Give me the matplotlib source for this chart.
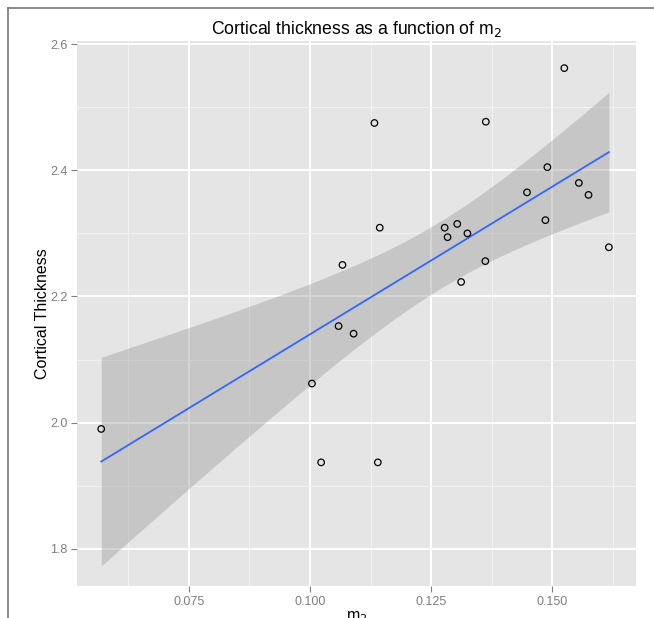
import numpy as np
import matplotlib
matplotlib.use("Agg")
import matplotlib.pyplot as plt
from matplotlib.lines import Line2D

plt.rcParams['font.family'] = ['Liberation Sans', 'DejaVu Sans']

# values
m2 = [0.0569, 0.1004, 0.1023, 0.1140, 0.1133, 0.1144, 0.1067, 0.1059, 0.1090,
      0.1363, 0.1448, 0.1278, 0.1304, 0.1284, 0.1325, 0.1362, 0.1312,
      0.1525, 0.1490, 0.1555, 0.1575, 0.1486, 0.1617]
thickness = [1.990, 2.062, 1.937, 1.937, 2.475, 2.309, 2.250, 2.153, 2.141,
             2.477, 2.365, 2.309, 2.315, 2.294, 2.300, 2.256, 2.223,
             2.562, 2.405, 2.380, 2.361, 2.321, 2.278]
x_ticks = [0.075, 0.100, 0.125, 0.150]
x_labels = ['0.075', '0.100', '0.125', '0.150']
y_ticks = [1.8, 2.0, 2.2, 2.4, 2.6]
y_labels = ['1.8', '2.0', '2.2', '2.4', '2.6']

x = np.array(m2)
y = np.array(thickness)

# linear fit with 95% confidence band (like geom_smooth(method='lm'))
n = len(x)
b1, b0 = np.polyfit(x, y, 1)
resid = y - (b0 + b1 * x)
s = np.sqrt(np.sum(resid ** 2) / (n - 2))
xs = np.linspace(x.min(), x.max(), 100)
ys = b0 + b1 * xs
se = s * np.sqrt(1 / n + (xs - x.mean()) ** 2 / np.sum((x - x.mean()) ** 2))
t = 2.080  # t(0.975, df=21)

fig = plt.figure(figsize=(6.54, 6.18), dpi=100)
ax = fig.add_axes([77 / 654, 1 - 586 / 618, (636 - 77) / 654, (586 - 41) / 618])
ax.set_facecolor('#e5e5e5')

ax.fill_between(xs, ys - t * se, ys + t * se, color='#999999', alpha=0.4,
                linewidth=0, zorder=2)
ax.plot(xs, ys, color='#3366ff', linewidth=1.3, zorder=3)
ax.scatter(x, y, s=22, facecolors='none', edgecolors='black', linewidths=0.9, zorder=4)

ax.set_xlim(0.0519, 0.1673)
ax.set_ylim(1.741, 2.605)
ax.set_xticks(x_ticks)
ax.set_xticklabels(x_labels)
ax.set_yticks(y_ticks)
ax.set_yticklabels(y_labels)
ax.set_xticks([0.0625, 0.0875, 0.1125, 0.1375, 0.1625], minor=True)
ax.set_yticks([1.9, 2.1, 2.3, 2.5], minor=True)

ax.grid(True, which='major', color='white', linewidth=1.4, zorder=1)
ax.grid(True, which='minor', color='#f2f2f2', linewidth=0.7, zorder=1)
ax.set_axisbelow(True)
for sp in ax.spines.values():
    sp.set_visible(False)

ax.tick_params(which='major', direction='out', length=4, width=0.8,
               color='#7f7f7f', labelcolor='#7f7f7f', labelsize=9, pad=3)
ax.tick_params(which='minor', length=0)

ax.set_xlabel('m$_2$', fontsize=11.5, labelpad=1)
ax.set_ylabel('Cortical Thickness', fontsize=11.5, labelpad=0)
ax.set_title('Cortical thickness as a function of m$_2$', fontsize=12.7, pad=5)

# outer frame, cropped at right and bottom
fig.add_artist(Line2D([8 / 654, 8 / 654], [0, 1 - 8 / 618], color='#777777',
                      linewidth=1.2, transform=fig.transFigure))
fig.add_artist(Line2D([8 / 654, 1], [1 - 8 / 618, 1 - 8 / 618], color='#777777',
                      linewidth=1.2, transform=fig.transFigure))

fig.savefig('out.png', dpi=100, facecolor='white')
